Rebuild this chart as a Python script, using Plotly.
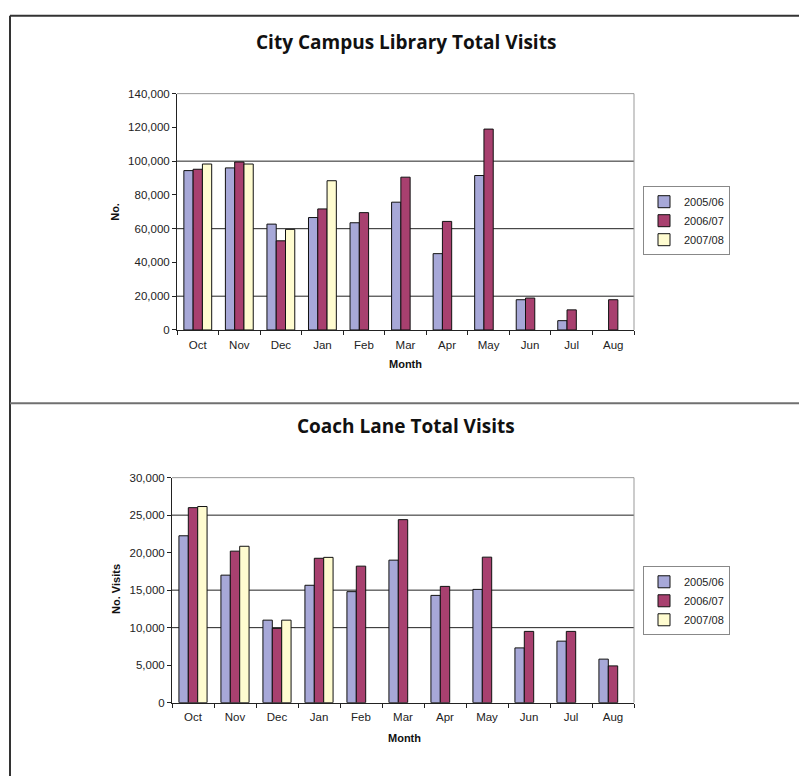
import plotly.graph_objects as go

months = ["Oct", "Nov", "Dec", "Jan", "Feb", "Mar", "Apr", "May", "Jun", "Jul", "Aug"]
series_names = ["2005/06", "2006/07", "2007/08"]

city_0506 = [94400, 96000, 62700, 66600, 63500, 75700, 45200, 91500, 17900, 5500, None]
city_0607 = [95200, 99500, 52800, 71700, 69500, 90500, 64300, 119000, 18900, 11900, 17900]
city_0708 = [98300, 98300, 59600, 88400, None, None, None, None, None, None, None]

coach_0506 = [22250, 17000, 11000, 15650, 14800, 19000, 14300, 15100, 7300, 8200, 5800]
coach_0607 = [26000, 20200, 9900, 19250, 18200, 24400, 15500, 19400, 9500, 9500, 4900]
coach_0708 = [26150, 20850, 11000, 19370, None, None, None, None, None, None, None]

city_ticks = [0, 20000, 40000, 60000, 80000, 100000, 120000, 140000]
city_grid = [20000, 60000, 100000]
coach_ticks = [0, 5000, 10000, 15000, 20000, 25000, 30000]
coach_grid = [10000, 15000, 25000]

colors = ["#A7A8D8", "#A8406F", "#FFFCD0"]

W, H = 799, 782
def px(x): return x / W
def py(y): return 1 - y / H

fig = go.Figure()
for data, xa, ya, lg in [((city_0506, city_0607, city_0708), "x", "y", "legend"),
                         ((coach_0506, coach_0607, coach_0708), "x2", "y2", "legend2")]:
    for name, vals, col in zip(series_names, data, colors):
        fig.add_trace(go.Bar(x=months, y=vals, name=name, marker=dict(color=col, line=dict(color="#111111", width=1)),
                             xaxis=xa, yaxis=ya, legend=lg))

tickfont = dict(family="Liberation Sans, Arial", size=11.5, color="#222222")
axis_title_font = dict(family="Liberation Sans, Arial", size=11, color="#111111")
legend_font = dict(family="Liberation Sans, Arial", size=11, color="#222222")

common_x = dict(type="category", showline=True, linecolor="#222222", linewidth=1, ticks="outside",
                tickson="boundaries", ticklen=4, tickcolor="#222222", tickfont=tickfont, showgrid=False,
                mirror=False, ticklabelstandoff=4)
common_y = dict(showline=True, linecolor="#222222", linewidth=1, ticks="outside", ticklen=4,
                tickcolor="#222222", tickfont=tickfont, showgrid=False, zeroline=False, tickformat=",d")

fig.update_layout(
    width=W, height=H, margin=dict(l=0, r=0, t=0, b=0),
    paper_bgcolor="white", plot_bgcolor="white",
    barmode="group", bargap=0.33, bargroupgap=0,
    xaxis=dict(common_x, domain=[px(177), px(634)], anchor="y"),
    yaxis=dict(common_y, domain=[py(329), py(89)], range=[0, 140000], tickvals=city_ticks, anchor="x"),
    xaxis2=dict(common_x, domain=[px(172), px(634)], anchor="y2"),
    yaxis2=dict(common_y, domain=[py(707.5), py(479)], range=[0, 30000], tickvals=coach_ticks, anchor="x2"),
    legend=dict(x=px(643), y=py(183), xanchor="left", yanchor="top", bgcolor="white",
                bordercolor="#888888", borderwidth=1, font=legend_font,
                itemwidth=30, tracegroupgap=0),
    legend2=dict(x=px(643), y=py(569), xanchor="left", yanchor="top", bgcolor="white",
                 bordercolor="#888888", borderwidth=1, font=legend_font,
                 itemwidth=30, tracegroupgap=0),
    showlegend=True,
)

shapes = []
for x0, x1, yt, yb in [(177, 634, 89, 329), (172, 634, 479, 707.5)]:
    shapes.append(dict(type="line", xref="paper", yref="paper", x0=px(x0), x1=px(x1), y0=py(yt), y1=py(yt),
                       line=dict(color="#999999", width=1)))
    shapes.append(dict(type="line", xref="paper", yref="paper", x0=px(x1), x1=px(x1), y0=py(yt), y1=py(yb),
                       line=dict(color="#999999", width=1)))
for g in city_grid:
    shapes.append(dict(type="line", xref="x domain", yref="y", x0=0, x1=1, y0=g, y1=g,
                       line=dict(color="#222222", width=1), layer="below"))
for g in coach_grid:
    shapes.append(dict(type="line", xref="x2 domain", yref="y2", x0=0, x1=1, y0=g, y1=g,
                       line=dict(color="#222222", width=1), layer="below"))
shapes.append(dict(type="line", xref="paper", yref="paper", x0=px(10), x1=1, y0=py(10), y1=py(10),
                   line=dict(color="#333333", width=2)))
shapes.append(dict(type="line", xref="paper", yref="paper", x0=px(10), x1=px(10), y0=py(10), y1=0,
                   line=dict(color="#333333", width=2)))
shapes.append(dict(type="line", xref="paper", yref="paper", x0=px(10), x1=1, y0=py(403.5), y1=py(403.5),
                   line=dict(color="#707070", width=2)))
fig.update_layout(shapes=shapes)

title_font = dict(family="Open Sans, Noto Sans, sans-serif", size=19, color="#111111")
ann = [
    dict(text="<b>City Campus Library Total Visits</b>", x=px(406), y=py(37), font=title_font),
    dict(text="<b>Coach Lane Total Visits</b>", x=px(406), y=py(427), font=title_font),
    dict(text="<b>Month</b>", x=px(405), y=py(364), font=axis_title_font),
    dict(text="<b>Month</b>", x=px(404), y=py(743), font=axis_title_font),
    dict(text="<b>No.</b>", x=px(115), y=py(209), font=axis_title_font, textangle=-90),
    dict(text="<b>No. Visits</b>", x=px(116), y=py(592), font=axis_title_font, textangle=-90),
]
for a in ann:
    a.update(xref="paper", yref="paper", showarrow=False, xanchor="center", yanchor="middle")
fig.update_layout(annotations=ann)

fig.write_html("out.html", config={"displayModeBar": False},
               post_script="document.body.style.margin='0';document.body.style.overflow='hidden';")
